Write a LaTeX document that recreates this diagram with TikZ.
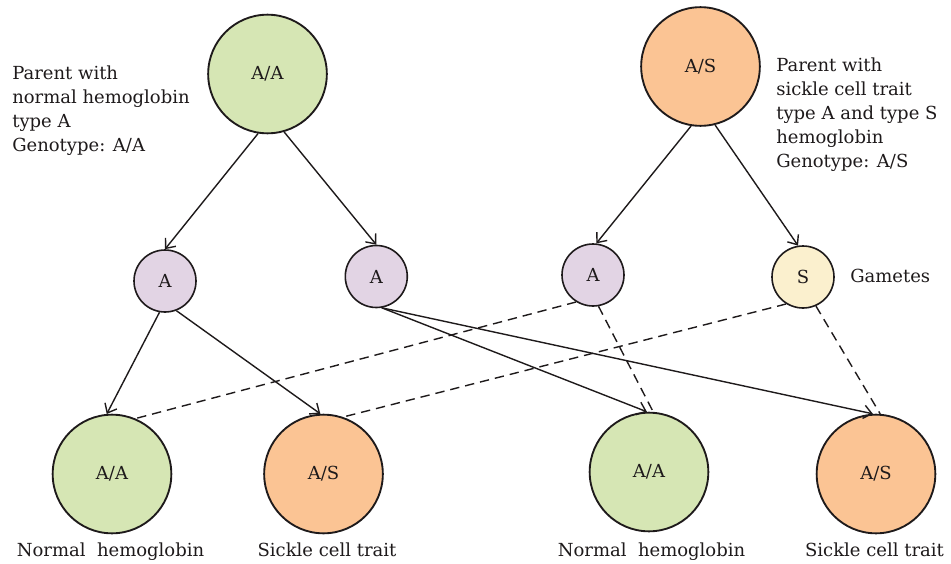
\documentclass[tikz,border=0pt]{standalone}
\usepackage{fontspec}
\setmainfont{DejaVu Serif}
\usetikzlibrary{arrows.meta}
\definecolor{gfill}{RGB}{214,230,180}
\definecolor{ofill}{RGB}{251,196,148}
\definecolor{lfill}{RGB}{226,212,228}
\definecolor{cfill}{RGB}{251,240,206}
\definecolor{ink}{RGB}{30,26,27}
\begin{document}
\begin{tikzpicture}[x=0.75pt,y=-0.75pt,
  big/.style={circle,draw=ink,line width=1.4pt,minimum size=89pt,inner sep=0pt,text=ink,font=\fontsize{13.5}{18}\selectfont},
  gam/.style={circle,draw=ink,line width=1.2pt,minimum size=46.5pt,inner sep=0pt,text=ink,font=\fontsize{13.5}{18}\selectfont},
  txt/.style={font=\fontsize{13.5}{18}\selectfont,inner sep=0pt,text=ink},
  arr/.style={draw=ink,line width=1.05pt,-{Straight Barb[length=6pt,width=10pt]}},
  dsh/.style={draw=ink,line width=1.05pt,dash pattern=on 7pt off 4.5pt}]
\useasboundingbox (0,0) rectangle (951,564);
% parents
\node[big,fill=gfill] (pAA) at (267.5,74) {A/A};
\node[big,fill=ofill] (pAS) at (700.5,66.5) {A/S};
% gametes
\node[gam,fill=lfill] (gA1) at (165,281) {A};
\node[gam,fill=lfill] (gA2) at (376.3,276.5) {A};
\node[gam,fill=lfill] (gA3) at (593,275) {A};
\node[gam,fill=cfill] (gS) at (803,277) {S};
% offspring
\node[big,fill=gfill] (o1) at (112,474) {A/A};
\node[big,fill=ofill] (o2) at (323.5,474) {A/S};
\node[big,fill=gfill] (o3) at (649,472) {A/A};
\node[big,fill=ofill] (o4) at (876,474) {A/S};
% labels
\node[txt,anchor=north west,align=left] (lp1) at (12,66) {Parent with\\normal hemoglobin\\type A\\Genotype: A/A};
\node[txt,anchor=north west,align=left] (lp2) at (776,58) {Parent with\\sickle cell trait\\type A and type S\\hemoglobin\\Genotype: A/S};
\node[txt,anchor=base west] (lgam) at (850,282) {Gametes};
\node[txt,anchor=base] (l1) at (110.5,556) {Normal\ \ hemoglobin};
\node[txt,anchor=base] (l2) at (327,556) {Sickle cell trait};
\node[txt,anchor=base] (l3) at (651.5,556) {Normal\ \ hemoglobin};
\node[txt,anchor=base] (l4) at (874.5,556) {Sickle cell trait};
% solid arrows
\draw[arr] (pAA.261) -- (gA1.north);
\draw[arr] (pAA.286) -- (gA2.north);
\draw[arr] (pAS.261) -- (gA3.84);
\draw[arr] (pAS.284) -- (gS.99);
\draw[arr] (gA1.260) -- (o1.95);
\draw[arr] (gA1.291) -- (o2.93);
\draw[arr] (gA2.280) -- (o3.92);
\draw[arr] (gA2.280) -- (o4.93);
% dashed lines
\draw[dsh] (gA3.238) -- (o1.67);
\draw[dsh] (gS.238) -- (o2.71);
\draw[dsh] (gA3.280) -- (o3.86);
\draw[dsh] (gS.294) -- (o4.86);
\end{tikzpicture}
\end{document}
